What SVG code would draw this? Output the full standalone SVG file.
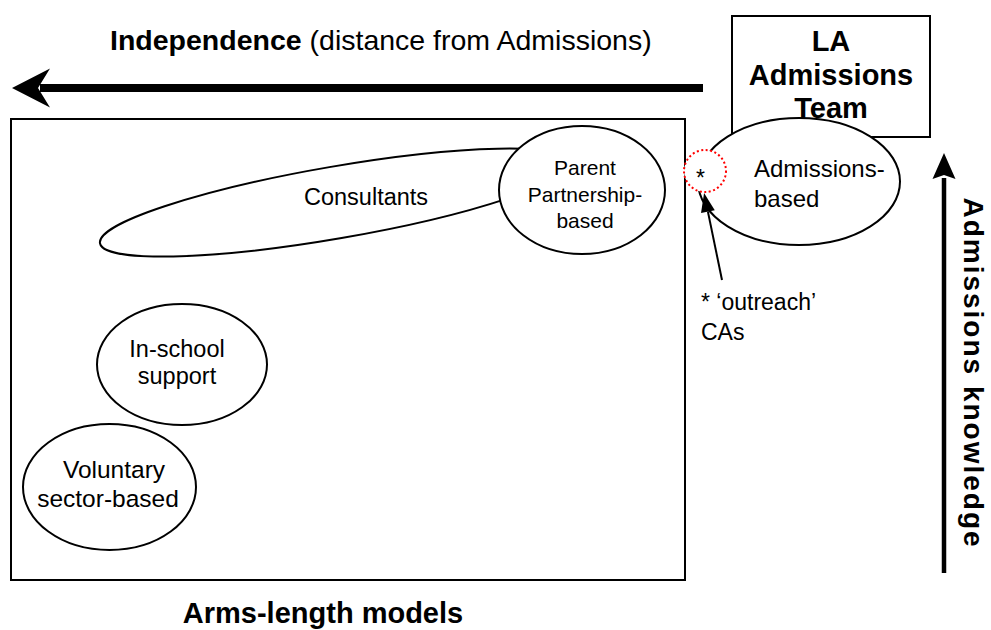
<svg xmlns="http://www.w3.org/2000/svg" width="991" height="630" viewBox="0 0 991 630">
<style>
  text { font-family: "Liberation Sans", Arial, sans-serif; fill: #000; }
  .b { font-weight: bold; }
  .shape { fill: #fff; stroke: #000; stroke-width: 2; }
  .frame { fill: none; stroke: #000; stroke-width: 2; }
  .mid { text-anchor: middle; }
  .red { fill: #fff; stroke: #ff0000; stroke-width: 2; stroke-dasharray: 2 2.5; }
</style>
<defs>
  <marker id="bighead" markerUnits="userSpaceOnUse" viewBox="-12 -21 42 42" markerWidth="42" markerHeight="42" refX="0" refY="0" orient="auto" overflow="visible">
    <path d="M28,0 L-10,-19.5 L2,0 L-10,19.5 Z" fill="#000"/>
  </marker>
  <marker id="vhead" markerUnits="userSpaceOnUse" viewBox="-2 -13 28 26" markerWidth="28" markerHeight="26" refX="0" refY="0" orient="auto" overflow="visible">
    <path d="M25,0 L-1,-11.5 L3,0 L-1,11.5 Z" fill="#000"/>
  </marker>
  <marker id="smallhead" markerUnits="userSpaceOnUse" viewBox="-1 -8 21 16" markerWidth="21" markerHeight="16" refX="0" refY="0" orient="auto" overflow="visible">
    <path d="M19,0 L0,-7 L0,7 Z" fill="#000"/>
  </marker>
</defs>

<g id="title">
  <text x="110" y="50" font-size="28.5"><tspan class="b">Independence</tspan> (distance from Admissions)</text>
</g>

<g id="arms-length-models">
  <rect class="frame" x="11" y="119" width="674" height="461"/>
  <text class="b mid" x="323" y="623" font-size="29">Arms-length models</text>
</g>

<g id="consultants">
  <ellipse class="shape" cx="335.5" cy="202.6" rx="239" ry="36" transform="rotate(-9.8 335.5 202.6)"/>
  <text x="304" y="205" font-size="23.5">Consultants</text>
</g>

<g id="parent-partnership">
  <ellipse class="shape" cx="582" cy="190" rx="83" ry="64"/>
  <text class="mid" font-size="21"><tspan x="585" y="175">Parent</tspan><tspan x="585" y="202">Partnership-</tspan><tspan x="585" y="228">based</tspan></text>
</g>

<g id="in-school">
  <ellipse class="shape" cx="182" cy="364.5" rx="85" ry="60.5"/>
  <text class="mid" font-size="23.5"><tspan x="177" y="357">In-school</tspan><tspan x="177" y="384">support</tspan></text>
</g>

<g id="voluntary">
  <ellipse class="shape" cx="109.5" cy="487" rx="86.5" ry="63"/>
  <text class="mid" font-size="24.5"><tspan x="114" y="478">Voluntary</tspan><tspan x="108" y="507">sector-based</tspan></text>
</g>

<g id="la-admissions-team">
  <rect class="frame" x="732" y="16" width="198" height="121"/>
  <text class="b mid" font-size="29"><tspan x="831" y="51">LA</tspan><tspan x="831" y="84.5">Admissions</tspan><tspan x="831" y="118">Team</tspan></text>
</g>

<g id="admissions-based">
  <ellipse class="shape" cx="799" cy="181.5" rx="101" ry="63.5"/>
  <text font-size="24"><tspan x="754" y="177">Admissions-</tspan><tspan x="754" y="207">based</tspan></text>
</g>

<g id="outreach">
  <circle class="red" cx="705" cy="171" r="21"/>
  <text x="696" y="186" font-size="23">*</text>
  <text font-size="23"><tspan x="701" y="310">* ‘outreach’</tspan><tspan x="701" y="340">CAs</tspan></text>
</g>

<g id="admissions-knowledge">
  <text class="b mid" font-size="28" letter-spacing="2" transform="translate(964 373) rotate(90)" x="0" y="0">Admissions knowledge</text>
</g>

<g id="connectors">
  <line x1="703" y1="88" x2="40" y2="88" stroke="#000" stroke-width="8" marker-end="url(#bighead)"/>
  <line x1="944" y1="573" x2="944" y2="178" stroke="#000" stroke-width="4.5" marker-end="url(#vhead)"/>
  <line x1="722" y1="280" x2="707.9" y2="211.6" stroke="#000" stroke-width="2" marker-end="url(#smallhead)"/>
</g>
</svg>
